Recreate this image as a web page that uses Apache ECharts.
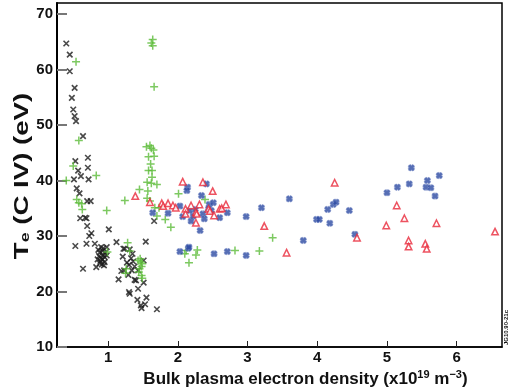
<!DOCTYPE html>
<html>
<head>
<meta charset="utf-8">
<script src="https://cdn.jsdelivr.net/npm/echarts@6/dist/echarts.min.js"></script>
<style>
  html, body { margin: 0; padding: 0; background: #fff; }
  #chart { width: 509px; height: 387px; }
</style>
</head>
<body>
<div id="chart"></div>
<script>
// data: [density, Te]
const blackPts = [
  [0.40,64.7],[0.45,62.7],[0.45,59.7],[0.52,56.7],[0.48,54.9],[0.50,52.8],[0.52,51.6],[0.54,50.7],
  [0.64,48.0],[0.53,43.5],[0.71,44.1],[0.57,41.8],[0.71,42.3],[0.51,40.2],[0.61,40.8],[0.72,40.2],
  [0.55,38.6],[0.59,37.7],[0.70,36.3],[0.75,36.3],[0.60,33.2],[0.67,33.3],[0.69,33.2],[0.70,31.8],
  [0.73,30.0],[0.76,30.5],[0.53,28.2],[0.69,28.6],[0.81,28.6],[0.64,24.1],[0.83,24.4],[0.94,24.7],
  [1.01,31.2],
  [0.86,27.5],[0.88,27.0],[0.90,28.0],[0.92,27.3],[0.87,26.4],[0.90,26.0],[0.93,26.6],[0.95,26.2],
  [0.89,25.5],[0.92,25.8],[0.96,27.0],[0.98,26.5],[0.91,24.9],[0.88,25.1],[0.95,25.3],[0.98,28.0],
  [0.85,25.8],[0.93,27.8],
  [1.12,28.9],[1.22,27.7],[1.31,27.6],[1.21,26.3],[1.24,27.7],[1.15,22.2],[1.31,19.6],[1.54,29.0],
  [1.51,25.6],[1.34,23.8],[1.38,24.5],[1.43,23.8],[1.27,25.2],[1.30,24.8],[1.33,26.0],[1.36,25.4],
  [1.29,23.0],[1.19,23.7],[1.23,23.8],[1.51,21.6],[1.38,22.1],[1.43,20.5],[1.30,19.9],[1.55,18.9],
  [1.42,18.5],[1.47,17.5],[1.53,17.7],[1.48,17.0],[1.70,16.8],[1.66,32.7],[1.40,22.0],[1.35,26.8]
];
const greenPts = [
  [0.54,61.4],[0.58,47.2],[0.50,42.6],[0.83,40.9],[0.40,40.0],[0.55,36.6],[0.58,36.0],[0.62,35.8],
  [0.63,34.8],[0.98,34.6],[0.99,27.1],[1.28,28.8],[1.31,27.3],[1.24,36.4],[1.45,38.4],
  [1.64,65.4],[1.62,64.8],[1.64,64.3],[1.66,56.9],
  [1.55,46.1],[1.60,46.3],[1.62,45.8],[1.65,45.5],[1.58,44.3],[1.66,44.4],[1.61,43.0],[1.58,41.8],
  [1.63,41.8],[1.63,40.6],[1.56,39.7],[1.62,39.5],[1.70,39.3],[1.57,38.1],[1.56,36.8],[1.60,36.3],
  [1.67,35.1],[1.73,35.1],[1.70,33.6],[1.82,33.0],[1.90,31.6],[2.01,37.6],[2.39,36.6],
  [1.43,25.6],[1.47,25.3],[1.48,24.5],[1.45,24.1],[1.46,25.9],[1.49,25.0],[1.26,24.1],[1.25,23.3],
  [1.48,22.9],[1.49,22.4],[1.44,23.5],
  [2.12,27.4],[2.10,26.8],[2.28,27.5],[2.26,26.6],[2.16,25.2],[2.82,27.4],[3.17,27.3],[3.36,29.7]
];
const redPts = [
  [1.39,37.2],[1.60,36.1],[1.77,35.9],[1.79,35.4],[1.86,35.9],[1.93,35.5],[1.97,35.1],[2.07,39.8],
  [2.36,39.7],[2.50,38.1],[2.19,35.5],[2.11,34.9],[2.31,35.7],[2.11,34.0],[2.26,34.3],[2.27,34.0],
  [2.26,32.4],[2.44,34.9],[2.46,34.5],[2.52,33.7],[2.60,34.9],[2.63,35.0],[2.69,35.7],[3.24,31.8],
  [3.56,27.0],[4.25,39.6],[4.57,29.7],[5.14,35.5],[5.25,33.2],[4.99,31.9],[5.71,32.3],[5.31,29.2],
  [5.31,28.1],[5.55,28.6],[5.57,27.7],[6.55,30.8]
];
const bluePts = [
  [1.64,34.2],[1.86,34.1],[2.14,38.8],[2.13,38.2],[2.41,39.4],[2.34,37.3],[2.03,35.4],[2.07,33.5],
  [2.19,32.7],[2.22,33.6],[2.25,34.8],[2.17,34.6],[2.36,34.0],[2.38,33.1],[2.45,35.7],[2.51,36.0],
  [2.44,34.9],[2.48,34.6],[2.60,33.3],[2.71,34.2],[2.32,31.0],[2.98,33.5],[3.20,35.1],[3.60,36.7],
  [2.03,27.2],[2.15,27.8],[2.16,28.0],[2.52,26.8],[2.71,27.2],[2.98,26.5],[3.80,29.2],[3.99,33.0],
  [4.03,33.0],[4.18,32.3],[4.15,34.8],[4.23,35.7],[4.27,36.1],[4.46,34.6],[4.54,30.3],[5.00,37.8],
  [5.15,38.8],[5.32,39.4],[5.35,42.3],[5.58,40.0],[5.56,38.8],[5.63,38.7],[5.75,40.9],[5.69,37.2]
];
const xTicks = [1, 2, 3, 4, 5, 6];

const font = '"Liberation Sans", Arial, sans-serif';
const crossPath = 'path://M0,0L10,10M10,0L0,10';
const plusPath = 'path://M5,0L5,10M0,5L10,5';
const starPath = 'path://M1,1L4,0L5,2L6,0L9,1L10,4L8,5L10,6L9,9L6,10L5,8L4,10L1,9L0,6L2,5L0,4Z';

const chart = echarts.init(document.getElementById('chart'));

const option = {
  animation: false,
  grid: {
    left: 57, right: 7, top: 3, bottom: 40,
    outerBoundsMode: 'none',
    containLabel: false,
    show: true, borderColor: '#000', borderWidth: 1.5
  },
  xAxis: {
    type: 'value',
    min: 0.267, max: 6.65,
    name: 'Bulk plasma electron density (x10{sup|19} m{sup|\u22123})',
    nameLocation: 'middle',
    nameGap: 22,
    nameTextStyle: {
      color: '#111', fontFamily: font, fontSize: 17, fontWeight: 'bold',
      padding: [0, 0, 0, 52],
      rich: { sup: { fontSize: 11, fontWeight: 'bold', fontFamily: font, verticalAlign: 'top', padding: [0, 0, 7, 0] } }
    },
    axisLine: { onZero: false, lineStyle: { color: '#000', width: 1.5 } },
    axisTick: { inside: true, length: 6, customValues: xTicks, lineStyle: { color: '#222', width: 1 } },
    axisLabel: { customValues: xTicks, color: '#111', fontFamily: font, fontSize: 15, fontWeight: 'bold', margin: 3 },
    splitLine: { show: false }
  },
  yAxis: {
    type: 'value',
    min: 10, max: 72, interval: 10,
    axisLine: { onZero: false, lineStyle: { color: '#000', width: 2 } },
    axisTick: { inside: true, length: 10, lineStyle: { color: '#777', width: 2 } },
    axisLabel: { color: '#111', fontFamily: font, fontSize: 15, fontWeight: 'bold', margin: 4 },
    splitLine: { show: false }
  },
  series: [
    {
      type: 'scatter', data: blackPts, symbol: crossPath, symbolSize: 5.5,
      itemStyle: { color: 'none', borderColor: '#1b1b1b', borderWidth: 1.6 }
    },
    {
      type: 'scatter', data: greenPts, symbol: plusPath, symbolSize: 8,
      itemStyle: { color: 'none', borderColor: '#5cbb3a', borderWidth: 1.5 }
    },
    {
      type: 'scatter', data: bluePts, symbol: starPath, symbolSize: 6.5,
      itemStyle: { color: '#2c4aa2', borderColor: '#7c90c8', borderWidth: 0.6 }
    },
    {
      type: 'scatter', data: redPts, symbol: 'triangle', symbolSize: 6.5,
      itemStyle: { color: '#fff', borderColor: '#e8283a', borderWidth: 1.5 }
    }
  ],
  graphic: [
    {
      // y axis title, stretched along its length like the original
      type: 'text', x: 22, y: 176, rotation: Math.PI / 2, scaleX: 1.38,
      style: {
        text: 'T{sub|e} (C IV) (eV)', fill: '#111', align: 'center', verticalAlign: 'middle',
        font: 'bold 20px ' + font,
        rich: { sub: { fontSize: 13, fontWeight: 'bold', fontFamily: font, verticalAlign: 'bottom' } }
      }
    },
    {
      type: 'text', x: 503, y: 345, rotation: Math.PI / 2,
      style: { text: 'JG10.90-21c', fill: '#111', font: 'bold 6px ' + font }
    }
  ]
};

chart.setOption(option);
</script>
</body>
</html>
